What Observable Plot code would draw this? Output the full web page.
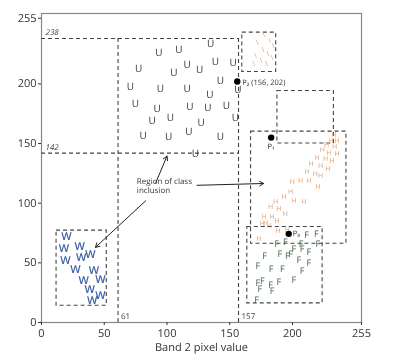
<!DOCTYPE html>
<html><head><meta charset="utf-8">
<script src="https://cdn.jsdelivr.net/npm/d3@7"></script>
<script src="https://cdn.jsdelivr.net/npm/@observablehq/plot@0.6"></script>
<style>
body{margin:0;background:#fff;}
#chart{width:413px;height:357px;}
#chart svg{will-change:transform;text-rendering:geometricPrecision;}
</style></head>
<body><div id="chart"></div>
<script>
const xTicks = [0, 50, 100, 150, 200, 255];
const yTicks = [0, 50, 100, 150, 200, 255];
const xLabel = "Band 2 pixel value";

// Class U samples
const uX = [134.7,93.5,109.4,138.6,152.7,77.5,105.4,116.1,126.1,142.6,70.9,94.8,116.1,134.1,156.4,74.9,92.2,118.2,132.5,147.4,102.8,88.2,127.3,154.6,81,101.4,117.4,142.6,122.7];
const uY = [233.6,226,228.6,218.8,217.3,212.7,209,216.3,212.1,202.9,197.2,195.9,195.9,190.9,195.1,183.3,179.1,181.1,180,181.9,171.6,168.7,167.4,171.6,156.7,155.3,159.5,155.3,141.4];
// Class W samples
const wX = [19.9,17.8,30.5,39,31.6,19.1,27.1,41.7,33.7,47,38.5,47,40.4];
const wY = [72.3,61.8,64,56.7,54.2,52,44.2,43.6,35.2,35.8,27.7,22.6,18.4];
// Class H samples
const hX = [232.9,230.8,235.6,227.1,233.5,223.7,228.9,235.6,219.7,226.3,231.6,214.9,222.3,228.1,211.7,218.3,222.3,206.4,213,199.8,220.2,198.4,193.1,201,209,186.5,182.5,189.1,194.4,177.1,183.8,187.8,175.9,181.1,195.8,188.6,173.1,178.5];
const hY = [157.6,152.6,152,149.2,147,144.8,142.7,141.4,138.1,137.2,135.2,133,131.6,128.8,126,124.6,123.2,119.1,119.1,117.6,113.4,109.2,105,102.3,100.8,100.8,97.2,95.3,91.1,88.3,88.3,85.5,82.7,81.3,77.7,77.1,70.2,84];
// Class F samples
const fX = [211.2,219.1,187.3,194.4,206.9,220.2,201,207.7,198.4,189.9,177.7,195.8,213,205,213,172.4,183,192,207.7,201,189.1,182.5,175.9,172.4,174,183.8,171.3];
const fY = [72.9,73.8,65.4,67.1,66,66,61.4,61.4,57.6,57,55.3,55.9,58.7,52.6,49.7,46.9,45,45,43,35.2,33.8,31,34.6,32.9,28.2,26.2,18.4];
// small cluster in the inset box
const sX = [177.1,181.9,184.6,171.9,176.6,180.3,183.8,170.5,175,179.3,169.2];
const sY = [241.4,235.8,232.2,234.1,228.6,225.2,221.9,223.8,219,216.9,216.9];

// dashed decision boxes
const boxX1 = [12, 160, 188, 167, 164];
const boxX2 = [52, 187, 233, 243, 224];
const boxY1 = [14, 210, 150, 66, 16];
const boxY2 = [77, 243, 194, 160, 80];
// U class limits
const uLimitsY = [238, 142];
const uLimitsX = [61, 157];

// points
const pX = [156, 183, 197];
const pY = [202, 155, 74.3];
const pLabels = ["P\u2082 (156, 202)", "P\u2081", "P\u2083"];

// arrows from note
const aX1 = [83, 91, 124];
const aY1 = [102, 117, 115];
const aX2 = [43, 100, 177];
const aY2 = [63, 139.5, 116.5];
const note = "Region of class\ninclusion";

const pts = (xs, ys) => xs.map((x, i) => ({x, y: ys[i]}));
const boxes = boxX1.map((x1, i) => ({x1, x2: boxX2[i], y1: boxY1[i], y2: boxY2[i]}));
const P = pX.map((x, i) => ({x, y: pY[i], label: pLabels[i]}));
const arrows = aX1.map((x1, i) => ({x1, y1: aY1[i], x2: aX2[i], y2: aY2[i]}));

const dash = {stroke: "#444", strokeWidth: 1.1, strokeDasharray: "4,3"};
const font = "'Open Sans', sans-serif";

const chart = Plot.plot({
  width: 413, height: 357,
  marginLeft: 41, marginRight: 52, marginTop: 13, marginBottom: 35,
  style: {fontFamily: font, fontSize: "11px", color: "#333", background: "#fff"},
  x: {domain: [0, 255], ticks: xTicks},
  y: {domain: [0, 259], ticks: yTicks},
  marks: [
    Plot.frame({stroke: "#888", strokeWidth: 1.2}),
    Plot.axisX({ticks: xTicks, tickSize: 3, tickPadding: 4, label: xLabel, labelAnchor: "center", labelArrow: "none", labelOffset: 28, fontSize: 11}),
    Plot.axisY({ticks: yTicks, tickSize: 3, tickPadding: 2, label: null, fontSize: 11}),
    Plot.ruleY(uLimitsY, {x1: 0, x2: 157, ...dash}),
    Plot.ruleX(uLimitsX, {y1: 0, y2: 238, ...dash}),
    Plot.rect(boxes, {x1: "x1", x2: "x2", y1: "y1", y2: "y2", fill: "none", ...dash}),
    Plot.text(uLimitsY, {x: 0, y: d => d, text: d => String(d), dx: 4, dy: -6, textAnchor: "start", fontSize: 8, fontStyle: "italic", fill: "#444"}),
    Plot.text(uLimitsX, {x: d => d, y: 0, text: d => String(d), dx: 3, dy: -6, textAnchor: "start", fontSize: 8, fill: "#444"}),
    Plot.text(pts(uX, uY), {x: "x", y: "y", text: () => "U", fontSize: 10, fill: "#3a3a3a"}),
    Plot.text(pts(wX, wY), {x: "x", y: "y", text: () => "W", fontSize: 11, fill: "#3f62a8", fontWeight: "600"}),
    Plot.text(pts(hX, hY), {x: "x", y: "y", text: () => "H", fontSize: 7, fill: "#e2a275"}),
    Plot.text(pts(fX, fY), {x: "x", y: "y", text: () => "F", fontSize: 9, fill: "#4a6a4c"}),
    Plot.text(pts(sX, sY), {x: "x", y: "y", text: () => "\\", fontSize: 7, fill: "#d9a070"}),
    Plot.dot(P, {x: "x", y: "y", r: 3.2, fill: "#000", stroke: "none"}),
    Plot.text(P.slice(0, 1), {x: "x", y: "y", text: "label", dx: 5, dy: 1, textAnchor: "start", fontSize: 7.5, fill: "#333"}),
    Plot.text(P.slice(1, 2), {x: "x", y: "y", text: "label", dy: 9, fontSize: 7.5, fill: "#333"}),
    Plot.text(P.slice(2), {x: "x", y: "y", text: "label", dx: 4, textAnchor: "start", fontSize: 7.5, fill: "#333"}),
    Plot.arrow(arrows, {x1: "x1", y1: "y1", x2: "x2", y2: "y2", stroke: "#222", strokeWidth: 1, headLength: 7}),
    Plot.text([note], {x: 76, y: 114.8, text: d => d, textAnchor: "start", lineAnchor: "middle", fontSize: 8, lineHeight: 1.2, fill: "#333"})
  ]
});
document.getElementById("chart").appendChild(chart);
</script>
</body></html>
